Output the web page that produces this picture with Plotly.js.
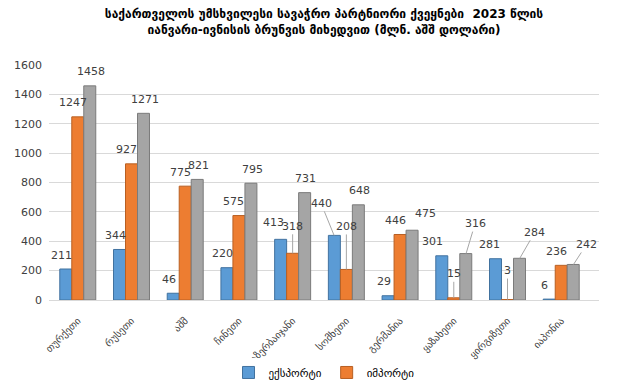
<!DOCTYPE html>
<html>
<head>
<meta charset="utf-8">
<script src="https://cdn.plot.ly/plotly-3.0.1.min.js"></script>
<style>html,body{margin:0;padding:0;background:#fff;}#chart{width:620px;height:384px;}</style>
</head>
<body>
<div id="chart"></div>
<script>
var countries = ["თურქეთი","რუსეთი","აშშ","ჩინეთი","აზერბაიჯანი","სომხეთი","გერმანია","ყაზახეთი","ყირგიზეთი","იაპონია"];
var exportVals = [211, 344, 46, 220, 413, 440, 29, 301, 281, 6];
var importVals = [1247, 927, 775, 575, 318, 208, 446, 15, 3, 236];
var turnoverVals = [1458, 1271, 821, 795, 731, 648, 475, 316, 284, 242];
var seriesNames = ["ექსპორტი", "იმპორტი", "ბრუნვა"];
var yTicks = [0, 200, 400, 600, 800, 1000, 1200, 1400, 1600];

// ---- styling ----
var font = "DejaVu Sans, Noto Sans, sans-serif";
var W = 620, H = 384;
var M = {l: 49, r: 21, t: 65, b: 84};
var BARGAP = 0.33;
var colors = ["#5B9BD5", "#ED7D31", "#A5A5A5"];
var edges = ["#41729F", "#B85F22", "#7B7B7B"];
// label placement (pixel offsets of label centre from bar top, style only)
var defaultShift = [-4, -5, 1];
var defaultLift = -14;
// [series, category index, dx, dy, leader]
var labelTweaks = [
  [0, 4, -7, -17, false],
  [1, 4, 0, -27, true],
  [0, 5, -13, -32, true],
  [1, 5, 0, -43, true],
  [2, 6, 13, -17, false],
  [0, 7, -9, -14, false],
  [1, 7, 0, -24, true],
  [2, 7, 9, -30, true],
  [0, 8, -6, -14, false],
  [1, 8, 0, -29, true],
  [2, 8, 15, -26, true],
  [2, 9, 13, -20, true]
];

var allVals = [exportVals, importVals, turnoverVals];
var data = allVals.map(function (vals, s) {
  return {
    type: "bar", name: seriesNames[s], x: countries, y: vals,
    marker: {color: colors[s], line: {color: edges[s], width: 1}},
    showlegend: s < 2, hoverinfo: "x+y"
  };
});

var plotW = W - M.l - M.r;
var barPx = plotW / countries.length * (1 - BARGAP) / allVals.length;

var annotations = [];
allVals.forEach(function (vals, s) {
  vals.forEach(function (v, i) {
    var tw = null;
    labelTweaks.forEach(function (t) { if (t[0] === s && t[1] === i) tw = t; });
    var base = (s - 1) * barPx;
    var dx = tw ? tw[2] : defaultShift[s];
    var dy = tw ? tw[3] : defaultLift;
    var leader = tw ? tw[4] : false;
    var a = {
      x: countries[i], y: v, xref: "x", yref: "y", text: String(v),
      font: {family: font, size: 11, color: "#404040"}
    };
    if (leader) {
      a.showarrow = true; a.arrowhead = 0; a.arrowwidth = 1; a.arrowcolor = "#A6A6A6";
      a.xshift = base; a.ax = dx; a.ay = dy; a.standoff = 0;
    } else {
      a.showarrow = false; a.xanchor = "center"; a.yanchor = "middle";
      a.xshift = base + dx; a.yshift = -dy;
    }
    annotations.push(a);
  });
});

var layout = {
  width: W, height: H,
  margin: {l: M.l, r: M.r, t: M.t, b: M.b, autoexpand: false},
  paper_bgcolor: "#fff", plot_bgcolor: "#fff",
  title: {
    text: "<b>საქართველოს უმსხვილესი სავაჭრო პარტნიორი ქვეყნები  2023 წლის<br>იანვარი-ივნისის ბრუნვის მიხედვით (მლნ. აშშ დოლარი)</b>",
    font: {family: font, size: 12, color: "#000"},
    x: 0.5, xanchor: "center", xref: "paper", yref: "container", y: 0.953, yanchor: "middle", automargin: false
  },
  barmode: "group", bargap: BARGAP, bargroupgap: 0,
  xaxis: {
    tickangle: -45, tickfont: {family: font, size: 10, color: "#404040"},
    showline: false, ticks: "", showgrid: false, automargin: false, ticklabelstandoff: 12
  },
  yaxis: {
    range: [0, 1600], tickvals: yTicks, ticktext: yTicks.map(String),
    tickfont: {family: font, size: 11, color: "#404040"},
    gridcolor: "#D9D9D9", gridwidth: 1, zeroline: true, zerolinecolor: "#D9D9D9",
    showline: false, ticks: "", automargin: false, ticklabelstandoff: 6
  },
  legend: {
    orientation: "h", x: 0.5, xanchor: "center", yref: "container", y: 0.03, yanchor: "middle",
    font: {family: font, size: 11, color: "#000"}, itemwidth: 30
  },
  annotations: annotations,
  showlegend: true
};
Plotly.newPlot("chart", data, layout, {displayModeBar: false, staticPlot: true});
</script>
</body>
</html>
